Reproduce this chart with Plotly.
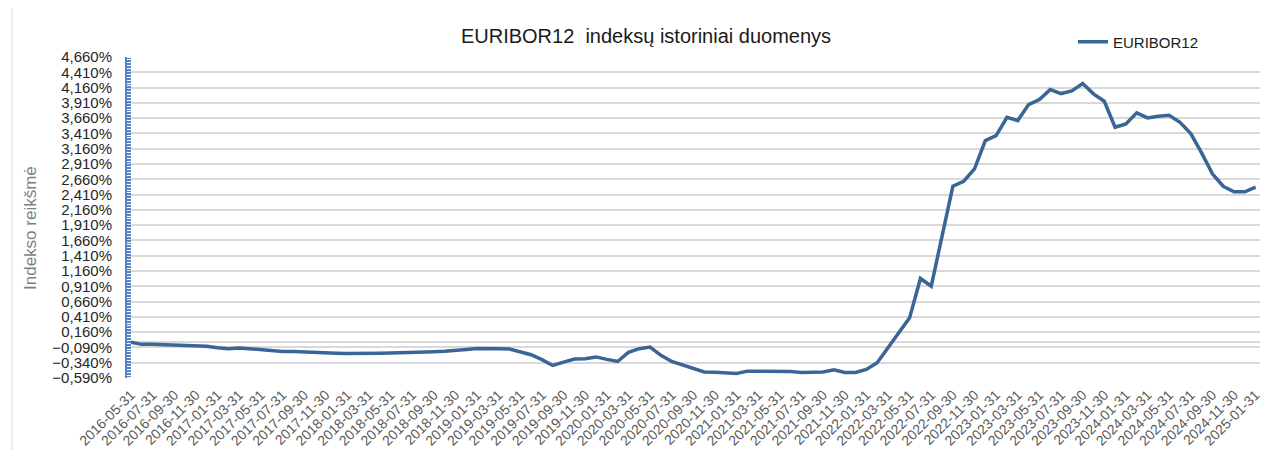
import pandas as pd
import plotly.graph_objects as go

# Monthly categories (month-end dates)
dates = [d.strftime("%Y-%m-%d") for d in pd.date_range("2016-05-31", "2025-01-31", freq="ME")]

# EURIBOR12 values (%)
euribor12 = [
    -0.005, -0.040, -0.040, -0.045, -0.060, -0.068, -0.070, -0.072,   # 2016-05 .. 2016-12
    -0.095, -0.110, -0.098, -0.115, -0.130, -0.152, -0.155, -0.155,   # 2017-01 .. 2017-08
    -0.165, -0.177, -0.182, -0.186,                                   # 2017-09 .. 2017-12
    -0.190, -0.193, -0.192, -0.186, -0.182, -0.180, -0.178, -0.170,   # 2018-01 .. 2018-08
    -0.160, -0.152, -0.145, -0.125,                                   # 2018-09 .. 2018-12
    -0.108, -0.103, -0.110, -0.115, -0.170, -0.210, -0.290, -0.385,   # 2019-01 .. 2019-08
    -0.330, -0.280, -0.275, -0.245,                                   # 2019-09 .. 2019-12
    -0.285, -0.320, -0.170, -0.110, -0.085, -0.220, -0.320, -0.380,   # 2020-01 .. 2020-08
    -0.440, -0.490, -0.495, -0.505,                                   # 2020-09 .. 2020-12
    -0.515, -0.478, -0.480, -0.480, -0.480, -0.485, -0.500, -0.500,   # 2021-01 .. 2021-08
    -0.490, -0.455, -0.500, -0.500,                                   # 2021-09 .. 2021-12
    -0.450, -0.340, -0.090, 0.150, 0.395, 1.038, 0.912, 1.730,        # 2022-01 .. 2022-08
    2.546, 2.628, 2.830, 3.293,                                       # 2022-09 .. 2022-12
    3.375, 3.674, 3.620, 3.882, 3.964, 4.127, 4.062, 4.106,           # 2023-01 .. 2023-08
    4.225, 4.057, 3.936, 3.511,                                       # 2023-09 .. 2023-12
    3.566, 3.746, 3.664, 3.690, 3.707, 3.592, 3.408, 3.092,           # 2024-01 .. 2024-08
    2.749, 2.546, 2.455, 2.455,                                       # 2024-09 .. 2024-12
    2.530,                                                            # 2025-01
]

tick_labels = dates[::2]

title_text = "EURIBOR12  indeksų istoriniai duomenys"
y_title = "Indekso reikšmė"
series_name = "EURIBOR12"

# the page body adds an 8px offset; build the figure in page coordinates minus it
OFF = 8
W, H = 1278 - OFF, 450 - OFF
plot_left, plot_right, plot_top, plot_bottom = 127, 1260, 57, 378   # page pixels
L = plot_left - OFF
R = W - (plot_right - OFF)
T = plot_top - OFF
B = H - (plot_bottom - OFF)
pw = W - L - R
ph = H - T - B

def px_x(p):
    return (p - OFF - L) / pw

def px_y(p):
    return 1 - (p - OFF - T) / ph

fig = go.Figure()
fig.add_trace(go.Scatter(
    x=dates, y=euribor12, mode="lines", name=series_name,
    line=dict(color="#3A6597", width=3.5),
))

fig.update_layout(
    width=W, height=H,
    margin=dict(l=L, r=R, t=T, b=B, autoexpand=False),
    paper_bgcolor="white", plot_bgcolor="white",
    separators=", ",
    font=dict(family="Liberation Sans, Arial, sans-serif", color="#262626"),
    title=dict(text=title_text, x=(646 - OFF) / W, xref="container", xanchor="center",
               y=1 - (36 - OFF) / H, yref="container", yanchor="middle",
               font=dict(size=20, color="#1a1a1a")),
    showlegend=True,
    legend=dict(x=px_x(1073), y=px_y(42), xanchor="left", yanchor="middle",
                font=dict(size=15, color="#1a1a1a"), bgcolor="rgba(0,0,0,0)",
                itemwidth=30),
    xaxis=dict(
        type="category", automargin=False,
        range=[-0.37, len(dates) - 1 + 0.40],
        tickmode="array", tickvals=tick_labels, ticktext=tick_labels,
        tickangle=-45, tickfont=dict(size=14, color="#595959"),
        ticklabelstandoff=5,
        showgrid=False, showline=False, zeroline=False, ticks="",
    ),
    yaxis=dict(
        automargin=False,
        range=[-0.59, 4.66], tick0=-0.59, dtick=0.25,
        tickformat=".3f", ticksuffix="%",
        tickfont=dict(size=15, color="#262626"),
        showgrid=True, gridcolor="#d9d9d9", gridwidth=1.5,
        zeroline=True, zerolinecolor="#d9d9d9", zerolinewidth=1.5,
        showline=True, linecolor="#5585c8", linewidth=2,
        ticks="inside", ticklen=4, tickcolor="#5585c8",
        ticklabelstandoff=10,
        minor=dict(dtick=0.025, tick0=-0.59, ticks="inside", ticklen=4,
                   tickcolor="#5585c8", showgrid=False),
    ),
    annotations=[dict(
        text=y_title, textangle=-90, x=px_x(31), y=px_y(228),
        xref="paper", yref="paper", showarrow=False,
        xanchor="center", yanchor="middle",
        font=dict(size=17, color="#7f7f7f"),
    )],
    shapes=[dict(type="line", xref="paper", yref="paper",
                 x0=px_x(12), x1=px_x(12), y0=px_y(0), y1=px_y(450),
                 line=dict(color="#d9d9d9", width=1))],
)

fig.write_html("out.html")
